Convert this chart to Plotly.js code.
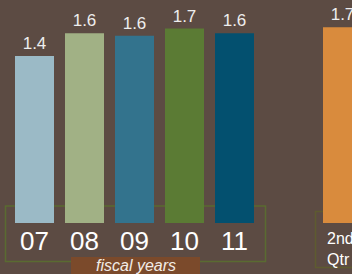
<!DOCTYPE html>
<html>
<head>
<meta charset="utf-8">
<script src="https://cdn.plot.ly/plotly-3.0.1.min.js"></script>
<style>
html,body{margin:0;padding:0;background:#5c4b43;}
#chart{width:352px;height:274px;}
</style>
</head>
<body>
<div id="chart"></div>
<script>
// Data
const categories = ["07", "08", "09", "10", "11", "2nd<br>Qtr"];
const positions = [0, 1, 2, 3, 4, 6.16];
const values = [1.40, 1.59, 1.57, 1.63, 1.59, 1.64];
const valueLabels = ["1.4", "1.6", "1.6", "1.7", "1.6", "1.7"];
const barColors = ["#9bbac6", "#a1b185", "#33738d", "#5b7b34", "#03506f", "#d98b3d"];

const W = 352, H = 274;
const px = v => v / W;
const py = v => 1 - v / H;

const trace = {
  type: "bar",
  x: positions,
  y: values,
  width: 0.78,
  marker: {color: barColors, line: {width: 0}},
  text: valueLabels,
  textposition: "outside",
  textfont: {family: "Liberation Sans, Arial, sans-serif", size: 17, color: "#eeeeee"},
  cliponaxis: false,
  hoverinfo: "none"
};

const annotations = categories.map((c, i) => {
  const isQ = i === categories.length - 1;
  return {
    x: isQ ? positions[i] - 0.39 : positions[i],
    y: 0,
    xref: "x", yref: "y",
    text: c,
    showarrow: false,
    xanchor: isQ ? "left" : "center",
    yanchor: "top",
    align: "left",
    xshift: isQ ? 2 : 0,
    yshift: isQ ? -5 : -1,
    font: {family: "Liberation Sans, Arial, sans-serif", size: isQ ? 16 : 26, color: "#ffffff"}
  };
});

annotations.push({
  x: px(135.5), y: py(265.5), xref: "paper", yref: "paper",
  text: "<i>fiscal years</i>", showarrow: false,
  xanchor: "center", yanchor: "middle",
  font: {family: "Liberation Sans, Arial, sans-serif", size: 16, color: "#f2ece6"}
});

const shapes = [
  {type: "rect", xref: "paper", yref: "paper", layer: "below",
   x0: px(5.5), x1: px(265.5), y0: py(261.5), y1: py(206),
   line: {color: "#5a6b31", width: 1.5}, fillcolor: "rgba(0,0,0,0)"},
  {type: "rect", xref: "paper", yref: "paper", layer: "below",
   x0: px(315.5), x1: px(360), y0: py(267.5), y1: py(211.5),
   line: {color: "#5e5b30", width: 1.5}, fillcolor: "rgba(0,0,0,0)"},
  {type: "rect", xref: "paper", yref: "paper", layer: "above",
   x0: px(71), x1: px(200), y0: py(275), y1: py(257),
   line: {width: 0}, fillcolor: "#7b4a2b"}
];

const layout = {
  width: W, height: H,
  margin: {l: 0, r: 0, t: 0, b: 0},
  paper_bgcolor: "#5c4b43",
  plot_bgcolor: "#5c4b43",
  showlegend: false,
  xaxis: {range: [-0.69, 6.35], visible: false, fixedrange: true},
  yaxis: {range: [-51 / 119.3, 223 / 119.3], visible: false, fixedrange: true},
  annotations: annotations,
  shapes: shapes
};

Plotly.newPlot("chart", [trace], layout, {displayModeBar: false, staticPlot: true});
</script>
</body>
</html>
